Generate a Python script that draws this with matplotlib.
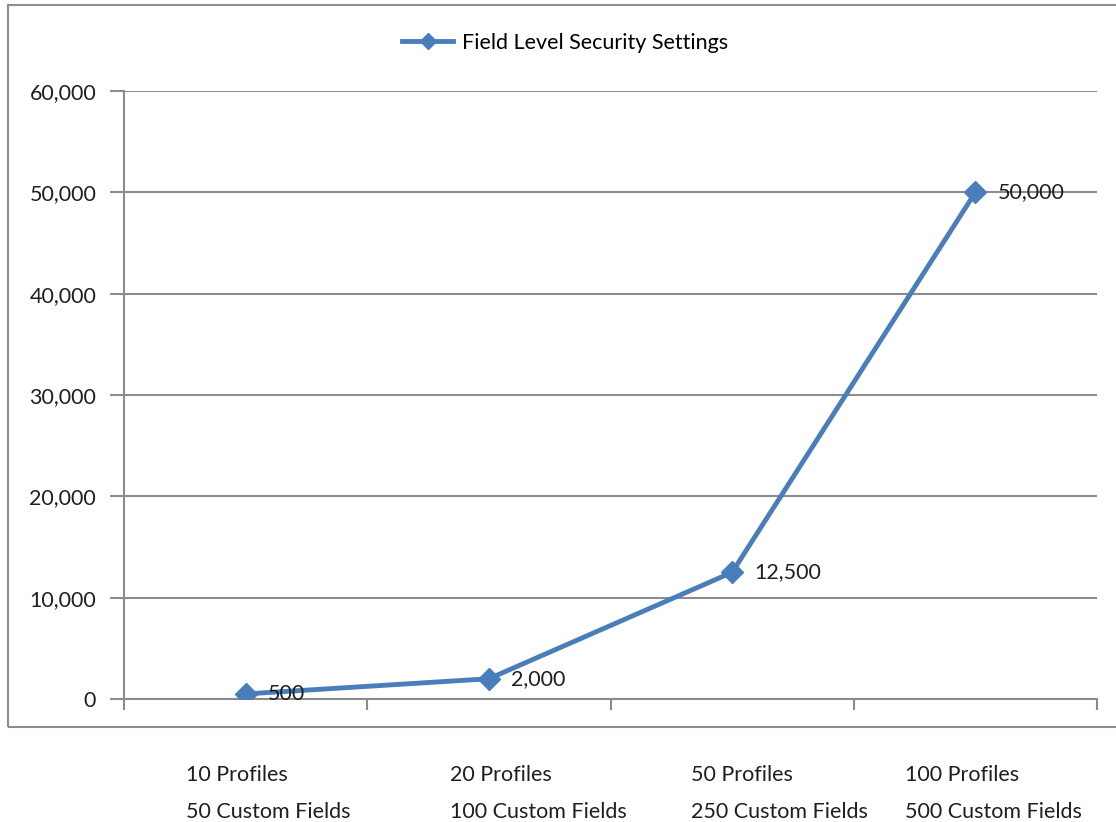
import matplotlib
matplotlib.use("Agg")
import matplotlib.pyplot as plt
from matplotlib.patches import Rectangle
from matplotlib.ticker import FuncFormatter

# security setting count per org size
line1 = ["10 Profiles", "20 Profiles", "50 Profiles", "100 Profiles"]
line2 = ["50 Custom Fields", "100 Custom Fields", "250 Custom Fields", "500 Custom Fields"]
settings = [500, 2000, 12500, 50000]
series_name = "Field Level Security Settings"

# left edges of the category text blocks, in data units
label_left = [-0.245, 0.842, 1.83, 2.71]

blue = "#4A7EBB"
grey = "#8C8C8C"
ink = "#1f1f1f"
fs = 15.5
plt.rcParams["font.family"] = ["Lato", "DejaVu Sans"]

fig = plt.figure(figsize=(11.16, 8.22), dpi=100)
fig.patches.append(Rectangle((8 / 1116, 1 - 727 / 822), 1.2, (727 - 5) / 822,
                             transform=fig.transFigure, fill=False,
                             edgecolor=grey, linewidth=1.5))
ax = fig.add_axes([124 / 1116, 1 - 699 / 822, (1097 - 124) / 1116, (699 - 91) / 822])

x = list(range(len(settings)))
ax.plot(x, settings, color=blue, linewidth=3.5, marker="D", markersize=11,
        label=series_name, zorder=3)
for xi, v in zip(x, settings):
    ax.annotate(f"{v:,}", (xi, v), xytext=(16, 0), textcoords="offset points",
                ha="left", va="center", fontsize=fs, color=ink, zorder=4)

ax.set_xlim(-0.5, len(settings) - 0.5)
ax.set_ylim(0, 60000)
ax.set_yticks(range(0, 60001, 10000))
ax.yaxis.set_major_formatter(FuncFormatter(lambda v, p: f"{int(v):,}"))
ax.grid(axis="y", color=grey, linewidth=1.5)
ax.set_axisbelow(True)

ax.set_xticks([i - 0.5 for i in range(len(settings) + 1)])
ax.set_xticklabels([])
ax.tick_params(axis="x", length=8, width=1.5, color=grey, direction="out")
ax.tick_params(axis="y", length=10, width=1.5, color=grey, direction="out",
               labelsize=fs, pad=10, labelcolor=ink)
for side in ["top", "right"]:
    ax.spines[side].set_visible(False)
for side in ["left", "bottom"]:
    ax.spines[side].set_color(grey)
    ax.spines[side].set_linewidth(1.5)

# two-line category labels sit below the frame
for lx, a, b in zip(label_left, line1, line2):
    ax.text(lx, -0.125, a, transform=ax.get_xaxis_transform(), ha="left",
            va="center", fontsize=fs, color=ink)
    ax.text(lx, -0.186, b, transform=ax.get_xaxis_transform(), ha="left",
            va="center", fontsize=fs, color=ink)

ax.legend(loc="center", bbox_to_anchor=(565 / 1116, 1 - 43 / 822), bbox_transform=fig.transFigure,
          frameon=False, fontsize=fs, handlelength=2.4, markerscale=0.75,
          handletextpad=0.4)

fig.savefig("out.png", dpi=100)
